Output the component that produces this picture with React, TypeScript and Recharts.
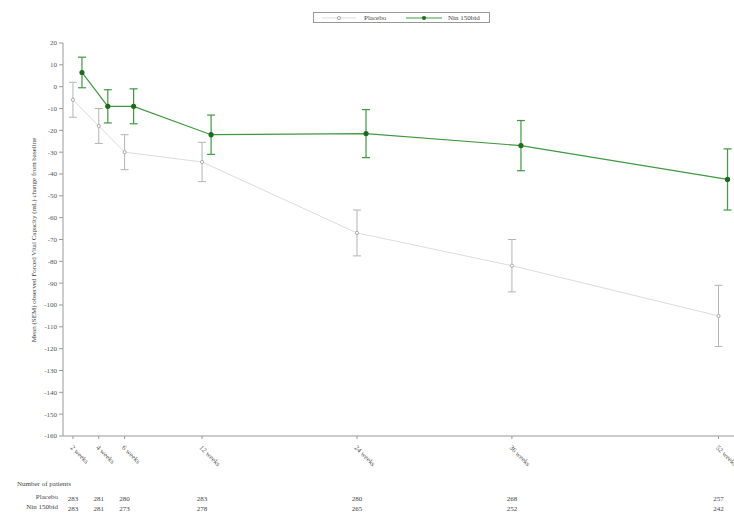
import React from "react";
import {
  LineChart,
  Line,
  XAxis,
  YAxis,
  ErrorBar,
} from "recharts";

const weeks = [2, 4, 6, 12, 24, 36, 52];
const weekLabels = ["2 weeks", "4 weeks", "6 weeks", "12 weeks", "24 weeks", "36 weeks", "52 weeks"];
const placeboMean = [-6, -18, -30, -34.5, -67, -82, -105];
const placeboSem = [8, 8, 8, 9, 10.5, 12, 14];
const ninMean = [6.5, -9, -9, -22, -21.5, -27, -42.5];
const ninSem = [7, 7.6, 8, 9, 11, 11.5, 14];
const placeboN = [283, 281, 280, 283, 280, 268, 257];
const ninN = [283, 281, 273, 278, 265, 252, 242];
const yTicks = [20, 10, 0, -10, -20, -30, -40, -50, -60, -70, -80, -90, -100, -110, -120, -130, -140, -150, -160];

// the original plot shifts the second group slightly right so the error bars don't overlap
const NIN_DODGE = 0.7;

const placeboData = weeks.map((w, i) => ({ week: w, value: placeboMean[i], err: placeboSem[i] }));
const ninData = weeks.map((w, i) => ({ week: w + NIN_DODGE, value: ninMean[i], err: ninSem[i] }));

const FONT = "'Liberation Serif', 'DejaVu Serif', serif";
const GREEN = "#3d9a3d";
const GREEN_DARK = "#1c6b1c";
const GREY_LINE = "#dcdcdc";
const GREY_BAR = "#b4b4b4";

function WeekTick(props: any) {
  const { x, y, payload } = props;
  const i = weeks.indexOf(payload.value);
  if (i < 0) return null;
  return (
    <g>
      <text
        x={x - 3}
        y={y + 7}
        transform={`rotate(45, ${x - 3}, ${y + 7})`}
        fontSize={7}
        fontFamily={FONT}
        fill="#555"
        textAnchor="start"
      >
        {weekLabels[i]}
      </text>
      <text x={x} y={y + 60} fontSize={7} fontFamily={FONT} fill="#444" textAnchor="middle">
        {placeboN[i]}
      </text>
      <text x={x} y={y + 70} fontSize={7} fontFamily={FONT} fill="#444" textAnchor="middle">
        {ninN[i]}
      </text>
    </g>
  );
}

function LegendBox() {
  return (
    <div
      style={{
        position: "absolute",
        left: 313,
        top: 12,
        display: "flex",
        alignItems: "center",
        border: "1px solid #999",
        height: 11,
        width: 177,
        fontFamily: FONT,
        fontSize: 7,
        color: "#444",
        boxSizing: "border-box",
      }}
    >
      <svg width={50} height={8}>
        <line x1={8} y1={4} x2={42} y2={4} stroke={GREY_LINE} />
        <circle cx={25} cy={4} r={1.6} fill="#fff" stroke="#aaa" />
      </svg>
      <span style={{ width: 40 }}>Placebo</span>
      <svg width={40} height={8}>
        <line x1={2} y1={4} x2={38} y2={4} stroke={GREEN} />
        <circle cx={20} cy={4} r={2} fill={GREEN_DARK} />
      </svg>
      <span style={{ marginLeft: 4 }}>Nin 150bid</span>
    </div>
  );
}

export default function App() {
  return (
    <div style={{ position: "absolute", left: 0, top: 0, width: 734, height: 515, background: "#fff", overflow: "hidden" }}>
      <LineChart
        width={734}
        height={515}
        margin={{ top: 43, right: 0, bottom: 0, left: 0 }}
      >
        <XAxis
          dataKey="week"
          type="number"
          domain={[1.23, 53.2]}
          allowDataOverflow
          ticks={weeks}
          tick={<WeekTick />}
          tickSize={3}
          height={79}
          stroke="#999"
          interval={0}
        />
        <YAxis
          type="number"
          domain={[-160, 20]}
          ticks={yTicks}
          width={63}
          tickSize={4}
          stroke="#999"
          interval={0}
          tick={{ fontSize: 7, fontFamily: FONT, fill: "#555" }}
          label={() => (
            <text
              x={36}
              y={240}
              transform="rotate(-90, 36, 240)"
              textAnchor="middle"
              fontSize={7}
              fontFamily={FONT}
              fill="#444"
            >
              Mean (SEM) observed Forced Vital Capacity (mL) change from baseline
            </text>
          )}
        />
        <Line
          data={placeboData}
          dataKey="value"
          name="Placebo"
          stroke={GREY_LINE}
          strokeWidth={1}
          dot={{ r: 1.6, fill: "#fff", stroke: "#aaa", strokeWidth: 1 }}
          isAnimationActive={false}
        >
          <ErrorBar dataKey="err" stroke={GREY_BAR} width={4} strokeWidth={1} direction="y" />
        </Line>
        <Line
          data={ninData}
          dataKey="value"
          name="Nin 150bid"
          stroke={GREEN}
          strokeWidth={1.2}
          dot={{ r: 2, fill: GREEN_DARK, stroke: GREEN_DARK }}
          isAnimationActive={false}
        >
          <ErrorBar dataKey="err" stroke={GREEN} width={4} strokeWidth={1.2} direction="y" />
        </Line>
      </LineChart>
      <LegendBox />
      <div style={{ position: "absolute", left: 17, top: 480, fontFamily: FONT, fontSize: 7, color: "#444" }}>
        Number of patients
      </div>
      <div style={{ position: "absolute", right: 734 - 58, top: 493, fontFamily: FONT, fontSize: 7, color: "#444", textAlign: "right" }}>
        Placebo
      </div>
      <div style={{ position: "absolute", right: 734 - 58, top: 503, fontFamily: FONT, fontSize: 7, color: "#444", textAlign: "right", whiteSpace: "nowrap" }}>
        Nin 150bid
      </div>
    </div>
  );
}
